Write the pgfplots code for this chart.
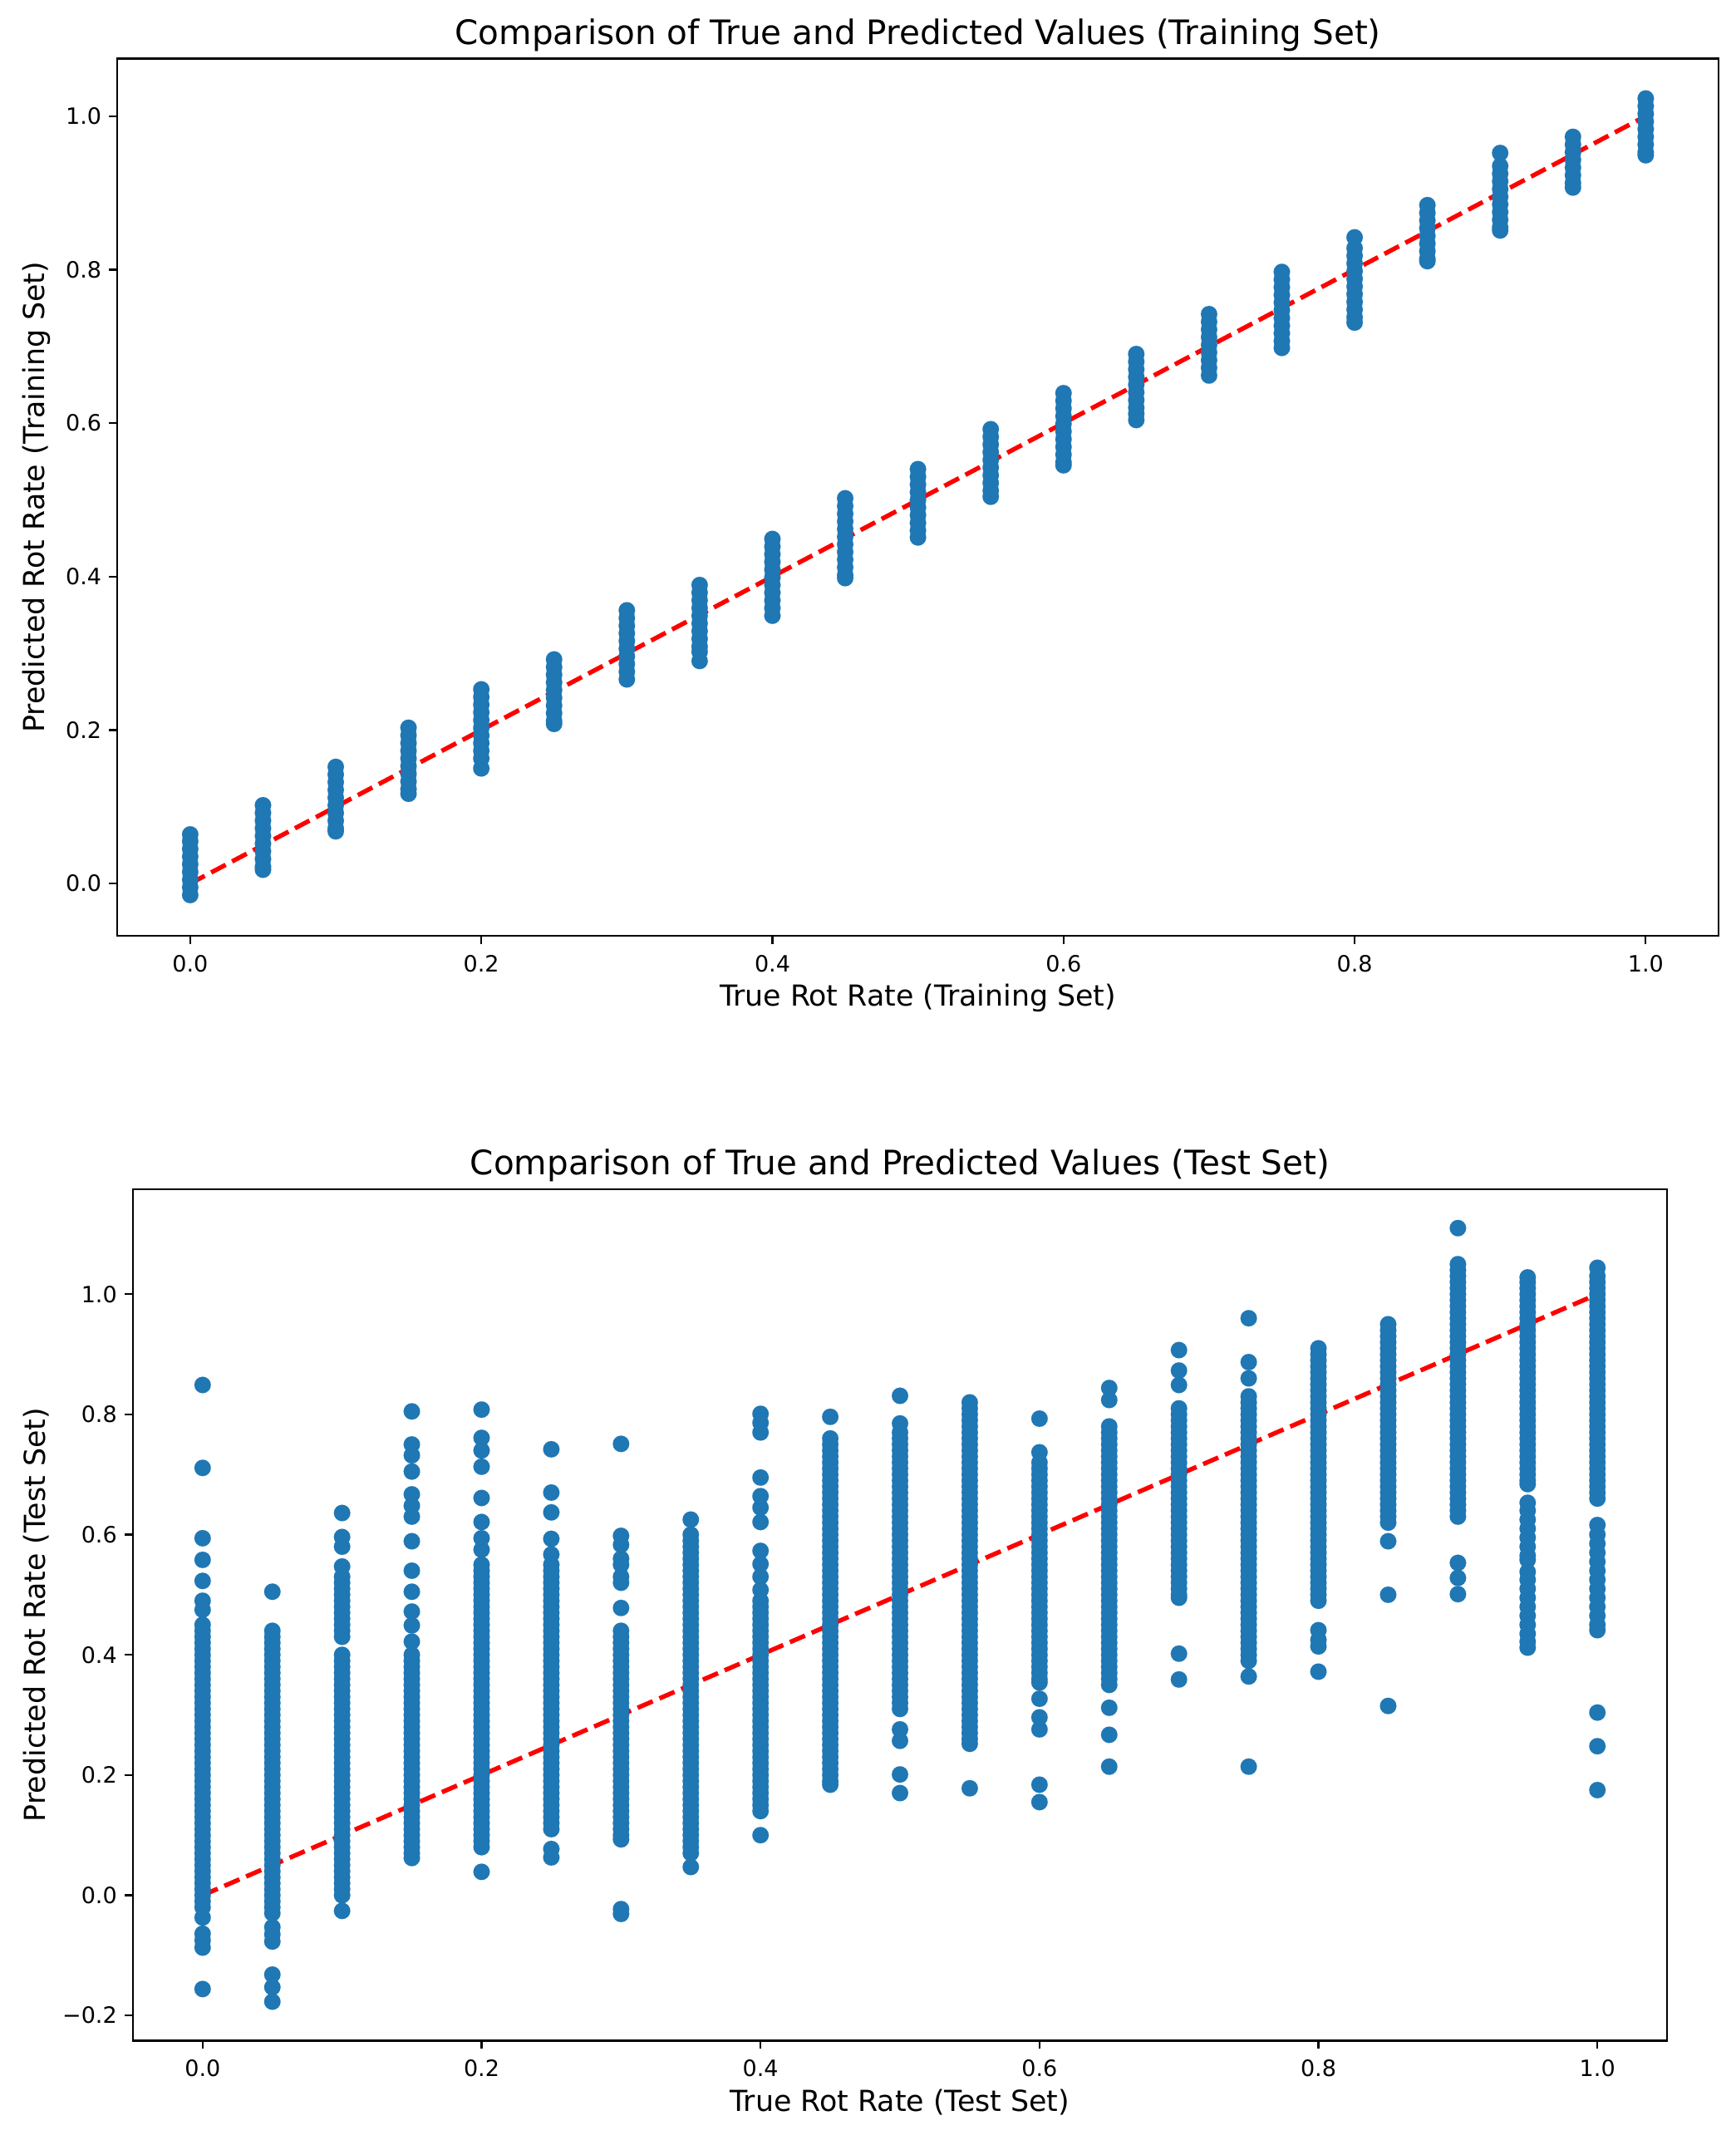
\documentclass[border=0pt]{standalone}
\usepackage{fontspec}
\setmainfont{DejaVu Sans}
\usepackage{pgfplots}
\pgfplotsset{compat=1.18}
\definecolor{tabblue}{HTML}{1F77B4}
\pgfplotsset{
  mpl/.style={
    scale only axis,
    xmin=-0.05, xmax=1.05,
    axis line style={line width=0.75pt, black},
    tick align=outside, tick pos=left,
    major tick length=3.3pt,
    every tick/.style={line width=0.75pt, black},
    xtick={0,0.2,0.4,0.6,0.8,1.0},
    xticklabels={0.0,0.2,0.4,0.6,0.8,1.0},
    tick label style={font=\fontsize{9}{10.5}\selectfont, inner sep=2.9pt},
    xticklabel style={yshift=-1.3pt},
    label style={font=\fontsize{11.6}{13.5}\selectfont},
    every axis title/.style={font=\fontsize{13.5}{16}\selectfont, at={(0.5,1)}, anchor=base, yshift=5.8pt},
    xlabel style={at={(axis description cs:0.5,0)}, anchor=base, yshift=-28.3pt},
    ylabel style={anchor=center},
  },
  scat/.style={only marks, color=tabblue, mark=*, mark size=3.3pt, mark options={solid, fill=tabblue, draw=tabblue, line width=0.01pt}},
  idline/.style={red, line width=1.8pt, dash pattern=on 6.6pt off 2.9pt},
}
\begin{document}
\begin{tikzpicture}
\path[use as bounding box] (0,0) rectangle (696pt,-858.33pt);
% ---------------- Training set ----------------
\begin{axis}[mpl, at={(47.1pt,-23.5pt)}, anchor=north west,
  width=642.2pt, height=351.8pt, ymin=-0.068, ymax=1.075,
  ytick={0,0.2,0.4,0.6,0.8,1.0}, yticklabels={0.0,0.2,0.4,0.6,0.8,1.0},
  title={Comparison of True and Predicted Values (Training Set)},
  xlabel={True Rot Rate (Training Set)},
  ylabel={Predicted Rot Rate (Training Set)},
  ylabel style={at={(axis description cs:-0.0508,0.5)}}]
\addplot[scat] coordinates {(0,0.064)(0,0.055)(0,0.045)(0,0.035)(0,0.025)(0,0.015)(0,0.005)(0,-0.005)(0,-0.015)};
\addplot[scat] coordinates {(0.05,0.102)(0.05,0.092)(0.05,0.082)(0.05,0.072)(0.05,0.062)(0.05,0.052)(0.05,0.042)(0.05,0.032)(0.05,0.022)(0.05,0.018)};
\addplot[scat] coordinates {(0.1,0.152)(0.1,0.142)(0.1,0.132)(0.1,0.122)(0.1,0.112)(0.1,0.102)(0.1,0.092)(0.1,0.082)(0.1,0.072)(0.1,0.068)};
\addplot[scat] coordinates {(0.15,0.203)(0.15,0.193)(0.15,0.183)(0.15,0.173)(0.15,0.163)(0.15,0.153)(0.15,0.143)(0.15,0.133)(0.15,0.123)(0.15,0.117)};
\addplot[scat] coordinates {(0.2,0.253)(0.2,0.243)(0.2,0.233)(0.2,0.223)(0.2,0.213)(0.2,0.203)(0.2,0.193)(0.2,0.183)(0.2,0.173)(0.2,0.163)(0.2,0.150)};
\addplot[scat] coordinates {(0.25,0.292)(0.25,0.282)(0.25,0.272)(0.25,0.262)(0.25,0.252)(0.25,0.242)(0.25,0.232)(0.25,0.222)(0.25,0.212)(0.25,0.208)};
\addplot[scat] coordinates {(0.3,0.356)(0.3,0.346)(0.3,0.336)(0.3,0.326)(0.3,0.316)(0.3,0.306)(0.3,0.296)(0.3,0.286)(0.3,0.276)(0.3,0.266)};
\addplot[scat] coordinates {(0.35,0.389)(0.35,0.379)(0.35,0.369)(0.35,0.359)(0.35,0.349)(0.35,0.339)(0.35,0.329)(0.35,0.319)(0.35,0.309)(0.35,0.302)(0.35,0.290)};
\addplot[scat] coordinates {(0.4,0.449)(0.4,0.439)(0.4,0.429)(0.4,0.419)(0.4,0.409)(0.4,0.399)(0.4,0.389)(0.4,0.379)(0.4,0.369)(0.4,0.359)(0.4,0.349)};
\addplot[scat] coordinates {(0.45,0.502)(0.45,0.492)(0.45,0.482)(0.45,0.472)(0.45,0.462)(0.45,0.452)(0.45,0.442)(0.45,0.432)(0.45,0.422)(0.45,0.412)(0.45,0.402)(0.45,0.398)};
\addplot[scat] coordinates {(0.5,0.540)(0.5,0.530)(0.5,0.520)(0.5,0.510)(0.5,0.500)(0.5,0.490)(0.5,0.480)(0.5,0.470)(0.5,0.460)(0.5,0.451)};
\addplot[scat] coordinates {(0.55,0.592)(0.55,0.582)(0.55,0.572)(0.55,0.562)(0.55,0.552)(0.55,0.542)(0.55,0.532)(0.55,0.522)(0.55,0.512)(0.55,0.504)};
\addplot[scat] coordinates {(0.6,0.639)(0.6,0.629)(0.6,0.619)(0.6,0.609)(0.6,0.599)(0.6,0.589)(0.6,0.579)(0.6,0.569)(0.6,0.559)(0.6,0.549)(0.6,0.545)};
\addplot[scat] coordinates {(0.65,0.690)(0.65,0.680)(0.65,0.670)(0.65,0.660)(0.65,0.650)(0.65,0.640)(0.65,0.630)(0.65,0.620)(0.65,0.612)(0.65,0.604)};
\addplot[scat] coordinates {(0.7,0.742)(0.7,0.732)(0.7,0.722)(0.7,0.712)(0.7,0.702)(0.7,0.692)(0.7,0.682)(0.7,0.672)(0.7,0.662)};
\addplot[scat] coordinates {(0.75,0.797)(0.75,0.787)(0.75,0.777)(0.75,0.767)(0.75,0.757)(0.75,0.747)(0.75,0.737)(0.75,0.727)(0.75,0.717)(0.75,0.707)(0.75,0.698)};
\addplot[scat] coordinates {(0.8,0.842)(0.8,0.828)(0.8,0.818)(0.8,0.808)(0.8,0.798)(0.8,0.788)(0.8,0.778)(0.8,0.768)(0.8,0.758)(0.8,0.748)(0.8,0.738)(0.8,0.731)};
\addplot[scat] coordinates {(0.85,0.884)(0.85,0.874)(0.85,0.864)(0.85,0.854)(0.85,0.844)(0.85,0.834)(0.85,0.824)(0.85,0.814)(0.85,0.811)};
\addplot[scat] coordinates {(0.9,0.952)(0.9,0.935)(0.9,0.925)(0.9,0.915)(0.9,0.905)(0.9,0.895)(0.9,0.885)(0.9,0.875)(0.9,0.865)(0.9,0.855)(0.9,0.851)};
\addplot[scat] coordinates {(0.95,0.973)(0.95,0.963)(0.95,0.953)(0.95,0.943)(0.95,0.933)(0.95,0.923)(0.95,0.913)(0.95,0.907)};
\addplot[scat] coordinates {(1,1.023)(1,1.013)(1,1.003)(1,0.993)(1,0.983)(1,0.973)(1,0.963)(1,0.953)(1,0.949)};
\addplot[idline] coordinates {(0,0)(1,1)};
\end{axis}
% ---------------- Test set ----------------
\begin{axis}[mpl, at={(53.3pt,-476.9pt)}, anchor=north west,
  width=615.4pt, height=341.6pt, ymin=-0.242, ymax=1.175,
  ytick={-0.2,0,0.2,0.4,0.6,0.8,1.0}, yticklabels={−0.2,0.0,0.2,0.4,0.6,0.8,1.0},
  title={Comparison of True and Predicted Values (Test Set)},
  xlabel={True Rot Rate (Test Set)},
  ylabel={Predicted Rot Rate (Test Set)},
  ylabel style={at={(axis description cs:-0.0632,0.5)}}]
% x = 0.00
\addplot[scat] coordinates {(0,0.849)(0,0.711)(0,0.594)(0,0.558)(0,0.523)(0,0.49)(0,0.475)
(0,0.45)(0,0.44)(0,0.43)(0,0.42)(0,0.41)(0,0.40)(0,0.39)(0,0.38)(0,0.37)(0,0.36)(0,0.35)(0,0.34)(0,0.33)(0,0.32)(0,0.31)(0,0.30)(0,0.29)(0,0.28)(0,0.27)(0,0.26)(0,0.25)(0,0.24)(0,0.23)(0,0.22)(0,0.21)(0,0.20)(0,0.19)(0,0.18)(0,0.17)(0,0.16)(0,0.15)(0,0.14)(0,0.13)(0,0.12)(0,0.11)(0,0.10)(0,0.09)(0,0.08)(0,0.07)(0,0.06)(0,0.05)(0,0.04)(0,0.03)(0,0.02)(0,0.01)(0,0.00)(0,-0.01)(0,-0.02)
(0,-0.037)(0,-0.064)(0,-0.075)(0,-0.087)(0,-0.156)};
% x = 0.05
\addplot[scat] coordinates {(0.05,0.505)
(0.05,0.44)(0.05,0.43)(0.05,0.42)(0.05,0.41)(0.05,0.40)(0.05,0.39)(0.05,0.38)(0.05,0.37)(0.05,0.36)(0.05,0.35)(0.05,0.34)(0.05,0.33)(0.05,0.32)(0.05,0.31)(0.05,0.30)(0.05,0.29)(0.05,0.28)(0.05,0.27)(0.05,0.26)(0.05,0.25)(0.05,0.24)(0.05,0.23)(0.05,0.22)(0.05,0.21)(0.05,0.20)(0.05,0.19)(0.05,0.18)(0.05,0.17)(0.05,0.16)(0.05,0.15)(0.05,0.14)(0.05,0.13)(0.05,0.12)(0.05,0.11)(0.05,0.10)(0.05,0.09)(0.05,0.08)(0.05,0.07)(0.05,0.06)(0.05,0.05)(0.05,0.04)(0.05,0.03)(0.05,0.02)(0.05,0.01)(0.05,0.00)(0.05,-0.01)(0.05,-0.02)(0.05,-0.03)
(0.05,-0.053)(0.05,-0.065)(0.05,-0.077)(0.05,-0.132)(0.05,-0.153)(0.05,-0.177)};
% x = 0.10
\addplot[scat] coordinates {(0.1,0.636)(0.1,0.596)(0.1,0.58)(0.1,0.547)
(0.1,0.53)(0.1,0.52)(0.1,0.51)(0.1,0.50)(0.1,0.49)(0.1,0.48)(0.1,0.47)(0.1,0.46)(0.1,0.45)(0.1,0.44)(0.1,0.43)
(0.1,0.40)(0.1,0.39)(0.1,0.38)(0.1,0.37)(0.1,0.36)(0.1,0.35)(0.1,0.34)(0.1,0.33)(0.1,0.32)(0.1,0.31)(0.1,0.30)(0.1,0.29)(0.1,0.28)(0.1,0.27)(0.1,0.26)(0.1,0.25)(0.1,0.24)(0.1,0.23)(0.1,0.22)(0.1,0.21)(0.1,0.20)(0.1,0.19)(0.1,0.18)(0.1,0.17)(0.1,0.16)(0.1,0.15)(0.1,0.14)(0.1,0.13)(0.1,0.12)(0.1,0.11)(0.1,0.10)(0.1,0.09)(0.1,0.08)(0.1,0.07)(0.1,0.06)(0.1,0.05)(0.1,0.04)(0.1,0.03)(0.1,0.02)(0.1,0.01)(0.1,0.00)
(0.1,-0.026)};
% x = 0.15
\addplot[scat] coordinates {(0.15,0.805)(0.15,0.75)(0.15,0.732)(0.15,0.705)(0.15,0.667)(0.15,0.648)(0.15,0.63)(0.15,0.589)(0.15,0.54)(0.15,0.505)(0.15,0.472)(0.15,0.449)(0.15,0.422)
(0.15,0.40)(0.15,0.39)(0.15,0.38)(0.15,0.37)(0.15,0.36)(0.15,0.35)(0.15,0.34)(0.15,0.33)(0.15,0.32)(0.15,0.31)(0.15,0.30)(0.15,0.29)(0.15,0.28)(0.15,0.27)(0.15,0.26)(0.15,0.25)(0.15,0.24)(0.15,0.23)(0.15,0.22)(0.15,0.21)(0.15,0.20)(0.15,0.19)(0.15,0.18)(0.15,0.17)(0.15,0.16)(0.15,0.15)(0.15,0.14)(0.15,0.13)(0.15,0.12)(0.15,0.11)(0.15,0.10)(0.15,0.09)(0.15,0.08)(0.15,0.07)(0.15,0.062)};
% x = 0.20
\addplot[scat] coordinates {(0.2,0.808)(0.2,0.761)(0.2,0.74)(0.2,0.713)(0.2,0.661)(0.2,0.621)(0.2,0.594)(0.2,0.575)
(0.2,0.55)(0.2,0.54)(0.2,0.53)(0.2,0.52)(0.2,0.51)(0.2,0.50)(0.2,0.49)(0.2,0.48)(0.2,0.47)(0.2,0.46)(0.2,0.45)(0.2,0.44)(0.2,0.43)(0.2,0.42)(0.2,0.41)(0.2,0.40)(0.2,0.39)(0.2,0.38)(0.2,0.37)(0.2,0.36)(0.2,0.35)(0.2,0.34)(0.2,0.33)(0.2,0.32)(0.2,0.31)(0.2,0.30)(0.2,0.29)(0.2,0.28)(0.2,0.27)(0.2,0.26)(0.2,0.25)(0.2,0.24)(0.2,0.23)(0.2,0.22)(0.2,0.21)(0.2,0.20)(0.2,0.19)(0.2,0.18)(0.2,0.17)(0.2,0.16)(0.2,0.15)(0.2,0.14)(0.2,0.13)(0.2,0.12)(0.2,0.11)(0.2,0.10)(0.2,0.09)(0.2,0.08)
(0.2,0.039)};
% x = 0.25
\addplot[scat] coordinates {(0.25,0.742)(0.25,0.67)(0.25,0.637)(0.25,0.593)(0.25,0.567)
(0.25,0.55)(0.25,0.54)(0.25,0.53)(0.25,0.52)(0.25,0.51)(0.25,0.50)(0.25,0.49)(0.25,0.48)(0.25,0.47)(0.25,0.46)(0.25,0.45)(0.25,0.44)(0.25,0.43)(0.25,0.42)(0.25,0.41)(0.25,0.40)(0.25,0.39)(0.25,0.38)(0.25,0.37)(0.25,0.36)(0.25,0.35)(0.25,0.34)(0.25,0.33)(0.25,0.32)(0.25,0.31)(0.25,0.30)(0.25,0.29)(0.25,0.28)(0.25,0.27)(0.25,0.26)(0.25,0.25)(0.25,0.24)(0.25,0.23)(0.25,0.22)(0.25,0.21)(0.25,0.20)(0.25,0.19)(0.25,0.18)(0.25,0.17)(0.25,0.16)(0.25,0.15)(0.25,0.14)(0.25,0.13)(0.25,0.12)(0.25,0.11)
(0.25,0.077)(0.25,0.063)};
% x = 0.30
\addplot[scat] coordinates {(0.3,0.751)(0.3,0.598)(0.3,0.583)(0.3,0.56)(0.3,0.55)(0.3,0.53)(0.3,0.52)(0.3,0.478)
(0.3,0.44)(0.3,0.43)(0.3,0.42)(0.3,0.41)(0.3,0.40)(0.3,0.39)(0.3,0.38)(0.3,0.37)(0.3,0.36)(0.3,0.35)(0.3,0.34)(0.3,0.33)(0.3,0.32)(0.3,0.31)(0.3,0.30)(0.3,0.29)(0.3,0.28)(0.3,0.27)(0.3,0.26)(0.3,0.25)(0.3,0.24)(0.3,0.23)(0.3,0.22)(0.3,0.21)(0.3,0.20)(0.3,0.19)(0.3,0.18)(0.3,0.17)(0.3,0.16)(0.3,0.15)(0.3,0.14)(0.3,0.13)(0.3,0.12)(0.3,0.11)(0.3,0.10)(0.3,0.093)
(0.3,-0.023)(0.3,-0.031)};
% x = 0.35
\addplot[scat] coordinates {(0.35,0.625)
(0.35,0.60)(0.35,0.59)(0.35,0.58)(0.35,0.57)(0.35,0.56)(0.35,0.55)(0.35,0.54)(0.35,0.53)(0.35,0.52)(0.35,0.51)(0.35,0.50)(0.35,0.49)(0.35,0.48)(0.35,0.47)(0.35,0.46)(0.35,0.45)(0.35,0.44)(0.35,0.43)(0.35,0.42)(0.35,0.41)(0.35,0.40)(0.35,0.39)(0.35,0.38)(0.35,0.37)(0.35,0.36)(0.35,0.35)(0.35,0.34)(0.35,0.33)(0.35,0.32)(0.35,0.31)(0.35,0.30)(0.35,0.29)(0.35,0.28)(0.35,0.27)(0.35,0.26)(0.35,0.25)(0.35,0.24)(0.35,0.23)(0.35,0.22)(0.35,0.21)(0.35,0.20)(0.35,0.19)(0.35,0.18)(0.35,0.17)(0.35,0.16)(0.35,0.15)(0.35,0.14)(0.35,0.13)(0.35,0.12)(0.35,0.11)(0.35,0.10)(0.35,0.09)(0.35,0.08)(0.35,0.07)
(0.35,0.047)};
% x = 0.40
\addplot[scat] coordinates {(0.4,0.801)(0.4,0.786)(0.4,0.77)(0.4,0.695)(0.4,0.664)(0.4,0.645)(0.4,0.621)(0.4,0.573)(0.4,0.551)(0.4,0.53)(0.4,0.508)
(0.4,0.49)(0.4,0.48)(0.4,0.47)(0.4,0.46)(0.4,0.45)(0.4,0.44)(0.4,0.43)(0.4,0.42)(0.4,0.41)(0.4,0.40)(0.4,0.39)(0.4,0.38)(0.4,0.37)(0.4,0.36)(0.4,0.35)(0.4,0.34)(0.4,0.33)(0.4,0.32)(0.4,0.31)(0.4,0.30)(0.4,0.29)(0.4,0.28)(0.4,0.27)(0.4,0.26)(0.4,0.25)(0.4,0.24)(0.4,0.23)(0.4,0.22)(0.4,0.21)(0.4,0.20)(0.4,0.19)(0.4,0.18)(0.4,0.17)(0.4,0.16)(0.4,0.15)(0.4,0.14)
(0.4,0.10)};
% x = 0.45
\addplot[scat] coordinates {(0.45,0.796)
(0.45,0.76)(0.45,0.75)(0.45,0.74)(0.45,0.73)(0.45,0.72)(0.45,0.71)(0.45,0.70)(0.45,0.69)(0.45,0.68)(0.45,0.67)(0.45,0.66)(0.45,0.65)(0.45,0.64)(0.45,0.63)(0.45,0.62)(0.45,0.61)(0.45,0.60)(0.45,0.59)(0.45,0.58)(0.45,0.57)(0.45,0.56)(0.45,0.55)(0.45,0.54)(0.45,0.53)(0.45,0.52)(0.45,0.51)(0.45,0.50)(0.45,0.49)(0.45,0.48)(0.45,0.47)(0.45,0.46)(0.45,0.45)(0.45,0.44)(0.45,0.43)(0.45,0.42)(0.45,0.41)(0.45,0.40)(0.45,0.39)(0.45,0.38)(0.45,0.37)(0.45,0.36)(0.45,0.35)(0.45,0.34)(0.45,0.33)(0.45,0.32)(0.45,0.31)(0.45,0.30)(0.45,0.29)(0.45,0.28)(0.45,0.27)(0.45,0.26)(0.45,0.25)(0.45,0.24)(0.45,0.23)(0.45,0.22)(0.45,0.21)(0.45,0.20)(0.45,0.19)(0.45,0.184)};
% x = 0.50
\addplot[scat] coordinates {(0.5,0.831)(0.5,0.785)
(0.5,0.77)(0.5,0.76)(0.5,0.75)(0.5,0.74)(0.5,0.73)(0.5,0.72)(0.5,0.71)(0.5,0.70)(0.5,0.69)(0.5,0.68)(0.5,0.67)(0.5,0.66)(0.5,0.65)(0.5,0.64)(0.5,0.63)(0.5,0.62)(0.5,0.61)(0.5,0.60)(0.5,0.59)(0.5,0.58)(0.5,0.57)(0.5,0.56)(0.5,0.55)(0.5,0.54)(0.5,0.53)(0.5,0.52)(0.5,0.51)(0.5,0.50)(0.5,0.49)(0.5,0.48)(0.5,0.47)(0.5,0.46)(0.5,0.45)(0.5,0.44)(0.5,0.43)(0.5,0.42)(0.5,0.41)(0.5,0.40)(0.5,0.39)(0.5,0.38)(0.5,0.37)(0.5,0.36)(0.5,0.35)(0.5,0.34)(0.5,0.33)(0.5,0.32)(0.5,0.31)
(0.5,0.276)(0.5,0.257)(0.5,0.201)(0.5,0.17)};
% x = 0.55
\addplot[scat] coordinates {(0.55,0.82)(0.55,0.81)(0.55,0.80)(0.55,0.79)(0.55,0.78)(0.55,0.77)(0.55,0.76)(0.55,0.75)(0.55,0.74)(0.55,0.73)(0.55,0.72)(0.55,0.71)(0.55,0.70)(0.55,0.69)(0.55,0.68)(0.55,0.67)(0.55,0.66)(0.55,0.65)(0.55,0.64)(0.55,0.63)(0.55,0.62)(0.55,0.61)(0.55,0.60)(0.55,0.59)(0.55,0.58)(0.55,0.57)(0.55,0.56)(0.55,0.55)(0.55,0.54)(0.55,0.53)(0.55,0.52)(0.55,0.51)(0.55,0.50)(0.55,0.49)(0.55,0.48)(0.55,0.47)(0.55,0.46)(0.55,0.45)(0.55,0.44)(0.55,0.43)(0.55,0.42)(0.55,0.41)(0.55,0.40)(0.55,0.39)(0.55,0.38)(0.55,0.37)(0.55,0.36)(0.55,0.35)(0.55,0.34)(0.55,0.33)(0.55,0.32)(0.55,0.31)(0.55,0.30)(0.55,0.29)(0.55,0.28)(0.55,0.27)(0.55,0.26)(0.55,0.252)
(0.55,0.178)};
% x = 0.60
\addplot[scat] coordinates {(0.6,0.793)(0.6,0.737)
(0.6,0.72)(0.6,0.71)(0.6,0.70)(0.6,0.69)(0.6,0.68)(0.6,0.67)(0.6,0.66)(0.6,0.65)(0.6,0.64)(0.6,0.63)(0.6,0.62)(0.6,0.61)(0.6,0.60)(0.6,0.59)(0.6,0.58)(0.6,0.57)(0.6,0.56)(0.6,0.55)(0.6,0.54)(0.6,0.53)(0.6,0.52)(0.6,0.51)(0.6,0.50)(0.6,0.49)(0.6,0.48)(0.6,0.47)(0.6,0.46)(0.6,0.45)(0.6,0.44)(0.6,0.43)(0.6,0.42)(0.6,0.41)(0.6,0.40)(0.6,0.39)(0.6,0.38)(0.6,0.37)(0.6,0.36)(0.6,0.354)
(0.6,0.327)(0.6,0.296)(0.6,0.276)(0.6,0.184)(0.6,0.155)};
% x = 0.65
\addplot[scat] coordinates {(0.65,0.844)(0.65,0.824)
(0.65,0.78)(0.65,0.77)(0.65,0.76)(0.65,0.75)(0.65,0.74)(0.65,0.73)(0.65,0.72)(0.65,0.71)(0.65,0.70)(0.65,0.69)(0.65,0.68)(0.65,0.67)(0.65,0.66)(0.65,0.65)(0.65,0.64)(0.65,0.63)(0.65,0.62)(0.65,0.61)(0.65,0.60)(0.65,0.59)(0.65,0.58)(0.65,0.57)(0.65,0.56)(0.65,0.55)(0.65,0.54)(0.65,0.53)(0.65,0.52)(0.65,0.51)(0.65,0.50)(0.65,0.49)(0.65,0.48)(0.65,0.47)(0.65,0.46)(0.65,0.45)(0.65,0.44)(0.65,0.43)(0.65,0.42)(0.65,0.41)(0.65,0.40)(0.65,0.39)(0.65,0.38)(0.65,0.37)(0.65,0.36)(0.65,0.35)
(0.65,0.312)(0.65,0.267)(0.65,0.214)};
% x = 0.70
\addplot[scat] coordinates {(0.7,0.907)(0.7,0.873)(0.7,0.849)
(0.7,0.81)(0.7,0.80)(0.7,0.79)(0.7,0.78)(0.7,0.77)(0.7,0.76)(0.7,0.75)(0.7,0.74)(0.7,0.73)(0.7,0.72)(0.7,0.71)(0.7,0.70)(0.7,0.69)(0.7,0.68)(0.7,0.67)(0.7,0.66)(0.7,0.65)(0.7,0.64)(0.7,0.63)(0.7,0.62)(0.7,0.61)(0.7,0.60)(0.7,0.59)(0.7,0.58)(0.7,0.57)(0.7,0.56)(0.7,0.55)(0.7,0.54)(0.7,0.53)(0.7,0.52)(0.7,0.51)(0.7,0.50)(0.7,0.495)
(0.7,0.402)(0.7,0.359)};
% x = 0.75
\addplot[scat] coordinates {(0.75,0.96)(0.75,0.887)(0.75,0.86)
(0.75,0.83)(0.75,0.82)(0.75,0.81)(0.75,0.80)(0.75,0.79)(0.75,0.78)(0.75,0.77)(0.75,0.76)(0.75,0.75)(0.75,0.74)(0.75,0.73)(0.75,0.72)(0.75,0.71)(0.75,0.70)(0.75,0.69)(0.75,0.68)(0.75,0.67)(0.75,0.66)(0.75,0.65)(0.75,0.64)(0.75,0.63)(0.75,0.62)(0.75,0.61)(0.75,0.60)(0.75,0.59)(0.75,0.58)(0.75,0.57)(0.75,0.56)(0.75,0.55)(0.75,0.54)(0.75,0.53)(0.75,0.52)(0.75,0.51)(0.75,0.50)(0.75,0.49)(0.75,0.48)(0.75,0.47)(0.75,0.46)(0.75,0.45)(0.75,0.44)(0.75,0.43)(0.75,0.42)(0.75,0.41)(0.75,0.40)(0.75,0.39)
(0.75,0.364)(0.75,0.214)};
% x = 0.80
\addplot[scat] coordinates {(0.8,0.91)(0.8,0.90)(0.8,0.89)(0.8,0.88)(0.8,0.87)(0.8,0.86)(0.8,0.85)(0.8,0.84)(0.8,0.83)(0.8,0.82)(0.8,0.81)(0.8,0.80)(0.8,0.79)(0.8,0.78)(0.8,0.77)(0.8,0.76)(0.8,0.75)(0.8,0.74)(0.8,0.73)(0.8,0.72)(0.8,0.71)(0.8,0.70)(0.8,0.69)(0.8,0.68)(0.8,0.67)(0.8,0.66)(0.8,0.65)(0.8,0.64)(0.8,0.63)(0.8,0.62)(0.8,0.61)(0.8,0.60)(0.8,0.59)(0.8,0.58)(0.8,0.57)(0.8,0.56)(0.8,0.55)(0.8,0.54)(0.8,0.53)(0.8,0.52)(0.8,0.51)(0.8,0.50)(0.8,0.49)
(0.8,0.441)(0.8,0.425)(0.8,0.414)(0.8,0.372)};
% x = 0.85
\addplot[scat] coordinates {(0.85,0.95)(0.85,0.94)(0.85,0.93)(0.85,0.92)(0.85,0.91)(0.85,0.90)(0.85,0.89)(0.85,0.88)(0.85,0.87)(0.85,0.86)(0.85,0.85)(0.85,0.84)(0.85,0.83)(0.85,0.82)(0.85,0.81)(0.85,0.80)(0.85,0.79)(0.85,0.78)(0.85,0.77)(0.85,0.76)(0.85,0.75)(0.85,0.74)(0.85,0.73)(0.85,0.72)(0.85,0.71)(0.85,0.70)(0.85,0.69)(0.85,0.68)(0.85,0.67)(0.85,0.66)(0.85,0.65)(0.85,0.64)(0.85,0.63)(0.85,0.62)
(0.85,0.589)(0.85,0.50)(0.85,0.315)};
% x = 0.90
\addplot[scat] coordinates {(0.9,1.11)
(0.9,1.05)(0.9,1.04)(0.9,1.03)(0.9,1.02)(0.9,1.01)(0.9,1.00)(0.9,0.99)(0.9,0.98)(0.9,0.97)(0.9,0.96)(0.9,0.95)(0.9,0.94)(0.9,0.93)(0.9,0.92)(0.9,0.91)(0.9,0.90)(0.9,0.89)(0.9,0.88)(0.9,0.87)(0.9,0.86)(0.9,0.85)(0.9,0.84)(0.9,0.83)(0.9,0.82)(0.9,0.81)(0.9,0.80)(0.9,0.79)(0.9,0.78)(0.9,0.77)(0.9,0.76)(0.9,0.75)(0.9,0.74)(0.9,0.73)(0.9,0.72)(0.9,0.71)(0.9,0.70)(0.9,0.69)(0.9,0.68)(0.9,0.67)(0.9,0.66)(0.9,0.65)(0.9,0.64)(0.9,0.63)
(0.9,0.553)(0.9,0.528)(0.9,0.501)};
% x = 0.95
\addplot[scat] coordinates {(0.95,1.028)(0.95,1.02)(0.95,1.01)(0.95,1.00)(0.95,0.99)(0.95,0.98)(0.95,0.97)(0.95,0.96)(0.95,0.95)(0.95,0.94)(0.95,0.93)(0.95,0.92)(0.95,0.91)(0.95,0.90)(0.95,0.89)(0.95,0.88)(0.95,0.87)(0.95,0.86)(0.95,0.85)(0.95,0.84)(0.95,0.83)(0.95,0.82)(0.95,0.81)(0.95,0.80)(0.95,0.79)(0.95,0.78)(0.95,0.77)(0.95,0.76)(0.95,0.75)(0.95,0.74)(0.95,0.73)(0.95,0.72)(0.95,0.71)(0.95,0.70)(0.95,0.69)(0.95,0.684)
(0.95,0.653)(0.95,0.64)(0.95,0.625)(0.95,0.61)(0.95,0.595)(0.95,0.58)(0.95,0.565)(0.95,0.558)
(0.95,0.538)(0.95,0.525)(0.95,0.51)(0.95,0.495)(0.95,0.48)(0.95,0.465)(0.95,0.45)(0.95,0.435)(0.95,0.422)(0.95,0.412)};
% x = 1.00
\addplot[scat] coordinates {(1,1.044)(1,1.03)(1,1.02)(1,1.01)(1,1.00)(1,0.99)(1,0.98)(1,0.97)(1,0.96)(1,0.95)(1,0.94)(1,0.93)(1,0.92)(1,0.91)(1,0.90)(1,0.89)(1,0.88)(1,0.87)(1,0.86)(1,0.85)(1,0.84)(1,0.83)(1,0.82)(1,0.81)(1,0.80)(1,0.79)(1,0.78)(1,0.77)(1,0.76)(1,0.75)(1,0.74)(1,0.73)(1,0.72)(1,0.71)(1,0.70)(1,0.69)(1,0.68)(1,0.67)(1,0.66)
(1,0.616)(1,0.60)(1,0.585)(1,0.57)(1,0.555)(1,0.54)(1,0.525)(1,0.51)(1,0.495)(1,0.48)(1,0.465)(1,0.45)(1,0.441)
(1,0.304)(1,0.248)(1,0.175)};
\addplot[idline] coordinates {(0,0)(1,1)};
\end{axis}
\end{tikzpicture}
\end{document}
